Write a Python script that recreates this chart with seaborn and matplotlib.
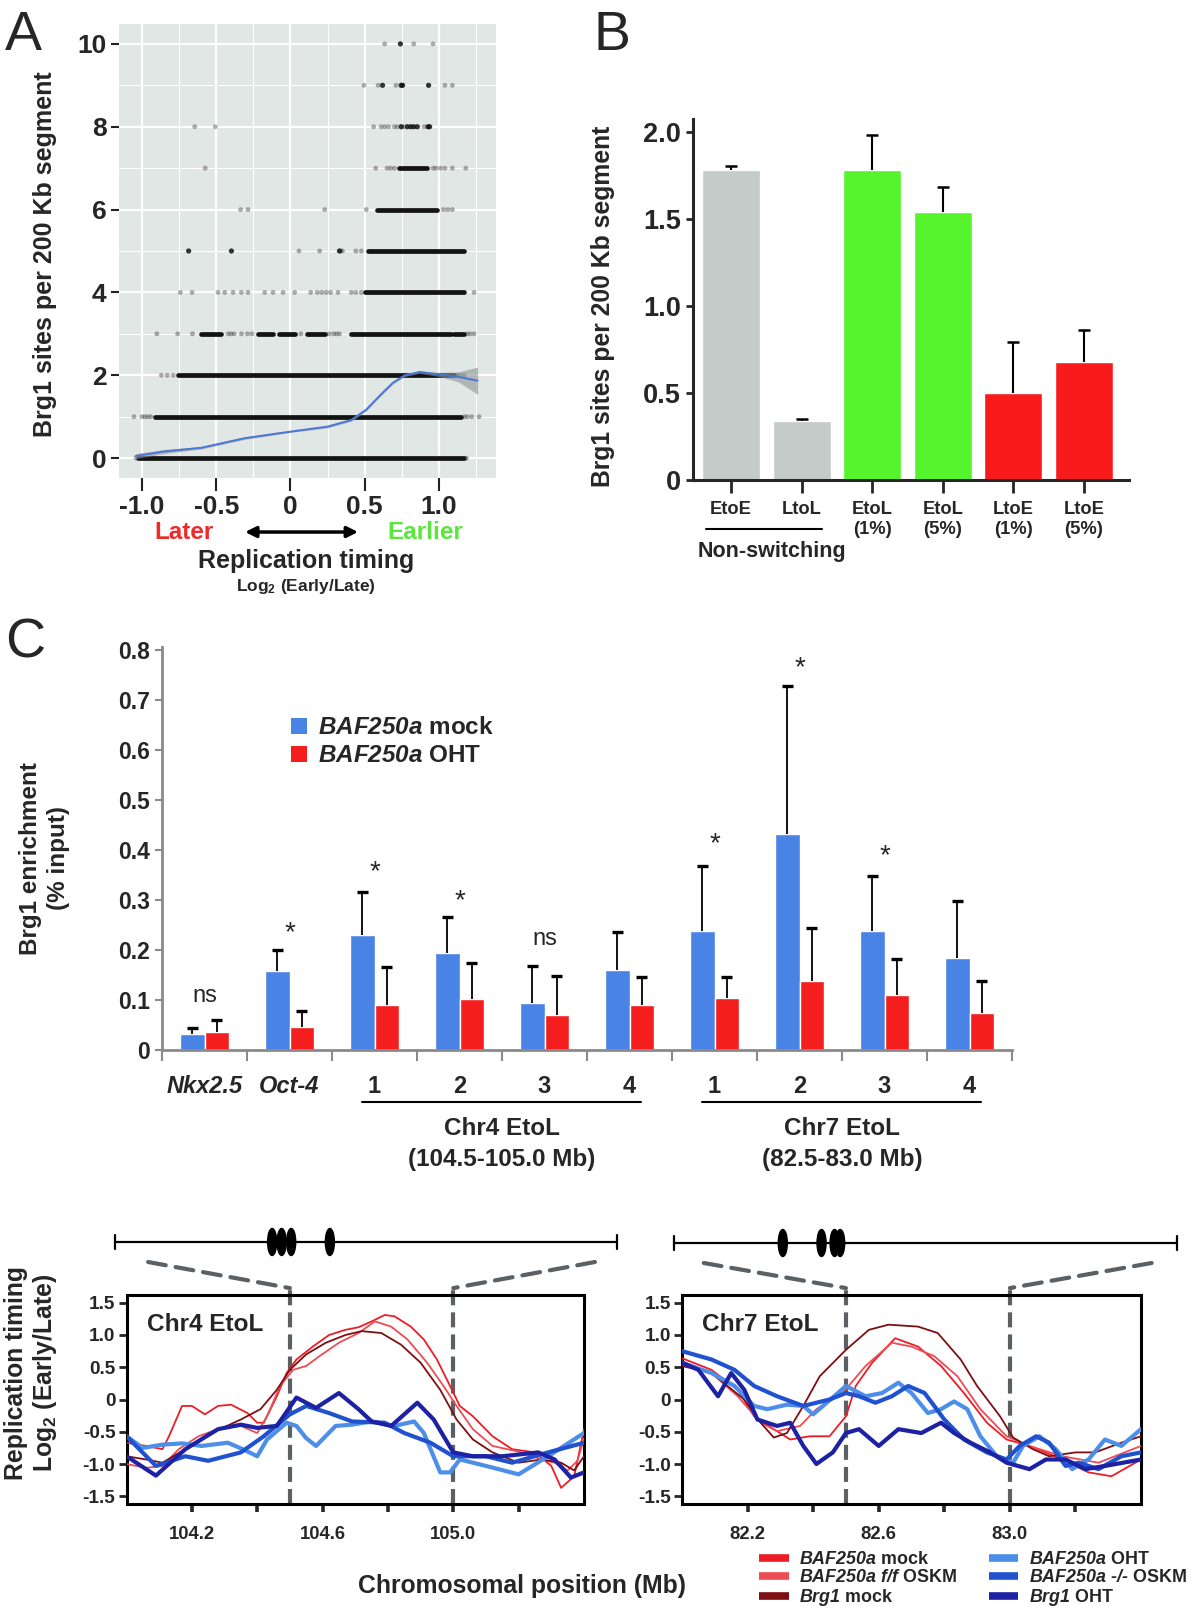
import numpy as np
import pandas as pd
import matplotlib
matplotlib.use("Agg")
import matplotlib.pyplot as plt
from matplotlib.patches import Ellipse, ConnectionPatch, Patch
from matplotlib.lines import Line2D
import seaborn as sns

sns.set_style("ticks")
plt.rcParams['font.family'] = ['Liberation Sans', 'DejaVu Sans']
plt.rcParams['font.weight'] = 'bold'
plt.rcParams['axes.labelweight'] = 'bold'
plt.rcParams['mathtext.fontset'] = 'custom'
# Ziffern im Mathe-Modus kommen aus "rm" -> auch kursiv-fett, damit BAF250a komplett kursiv ist
plt.rcParams['mathtext.rm'] = 'Liberation Sans:italic:bold'
plt.rcParams['mathtext.it'] = 'Liberation Sans:italic:bold'
plt.rcParams['mathtext.bf'] = 'Liberation Sans:bold'

# --- A: Brg1-Sites vs. Replikationszeitpunkt ---
# dichte Bereiche je Zeile: (sites, timing von, timing bis)
a_dense = [(0, -1.03, 1.17), (1, -0.915, 1.15), (2, -0.76, 1.10),
           (3, -0.60, -0.47), (3, -0.22, -0.12), (3, -0.08, 0.03), (3, 0.11, 0.23),
           (3, 0.41, 1.08), (3, 1.10, 1.17),
           (4, 0.50, 1.17), (5, 0.52, 1.17), (6, 0.58, 0.99), (7, 0.73, 0.92)]
a_sparse = {
    0: [-1.04, 1.185],
    1: [-1.054, -1.0, -0.98, -0.96, -0.94, 1.17, 1.19, 1.22, 1.27],
    2: [-0.87, -0.83, -0.79, 1.12, 1.14, 1.17],
    3: [-0.90, -0.76, -0.66, -0.42, -0.40, -0.38, -0.33, -0.29, -0.26, 0.07, 0.26,
        0.29, 0.31, 0.33, 1.19, 1.21, 1.236],
    4: [-0.742, -0.663, -0.488, -0.443, -0.387, -0.331, -0.286, -0.174, -0.118, -0.05,
        0.028, 0.136, 0.18, 0.21, 0.24, 0.27, 0.32, 0.41, 0.44, 0.477, 1.236],
    5: [0.057, 0.196, 0.338, 0.35, 0.44, 0.477],
    6: [-0.336, -0.286, 0.23, 0.51, 1.03, 1.06, 1.09],
    7: [-0.574, 0.574, 0.65, 0.675, 0.70, 0.96, 0.98, 1.01, 1.04, 1.09, 1.18],
    8: [-0.645, -0.506, 0.56, 0.61, 0.634, 0.66, 0.70, 0.72, 0.764, 0.90],
    9: [0.495, 0.59, 0.71, 1.04, 1.09],
    10: [0.634, 0.83, 0.96],
}
a_dark = {5: [-0.686, -0.398, 0.33],
          8: [0.746, 0.787, 0.81, 0.83, 0.854, 0.926, 0.937],
          9: [0.62, 0.745, 0.755, 0.93],
          10: [0.74]}
loess_x = [-1.044, -0.85, -0.6, -0.31, 0.0, 0.25, 0.41, 0.51, 0.61, 0.69, 0.77, 0.87, 1.0, 1.13, 1.26]
loess_y = [0.05, 0.16, 0.25, 0.48, 0.64, 0.76, 0.92, 1.17, 1.54, 1.82, 2.0, 2.08, 2.02, 1.96, 1.87]
loess_se = [0.06, 0.05, 0.03, 0.03, 0.02, 0.03, 0.03, 0.03, 0.03, 0.03, 0.03, 0.03, 0.05, 0.12, 0.33]

# --- B ---
b_cats = ["EtoE", "LtoL", "EtoL\n(1%)", "EtoL\n(5%)", "LtoE\n(1%)", "LtoE\n(5%)"]
b_vals = [1.78, 0.34, 1.78, 1.54, 0.50, 0.68]
b_tops = [1.807, 0.352, 1.984, 1.686, 0.795, 0.861]
b_colors = ["#c3ccc8", "#c3ccc8", "#55f42d", "#55f42d", "#f91b1b", "#f91b1b"]

# --- C ---
c_groups = ["Nkx2.5", "Oct-4", "1", "2", "3", "4", "1", "2", "3", "4"]
c_mock = [0.032, 0.158, 0.230, 0.194, 0.093, 0.159, 0.238, 0.431, 0.237, 0.184]
c_mock_top = [0.043, 0.199, 0.316, 0.265, 0.167, 0.235, 0.367, 0.727, 0.347, 0.298]
c_oht = [0.036, 0.045, 0.089, 0.102, 0.069, 0.089, 0.104, 0.138, 0.109, 0.073]
c_oht_top = [0.060, 0.078, 0.166, 0.173, 0.148, 0.146, 0.146, 0.243, 0.182, 0.137]
c_sig = ["ns", "*", "*", "*", "ns", "", "*", "*", "*", ""]
c_sig_y = [0.108, 0.234, 0.355, 0.297, 0.221, 0.0, 0.411, 0.762, 0.388, 0.0]

# --- Replikationsprofile Chr4 ---
c4_mock_x = [104.00, 104.06, 104.11, 104.13, 104.17, 104.20, 104.24, 104.28, 104.32, 104.37, 104.40, 104.42,
             104.46, 104.49, 104.52, 104.57, 104.62, 104.67, 104.71, 104.75, 104.79, 104.82, 104.87, 104.91,
             104.95, 104.99, 105.02, 105.06, 105.12, 105.18, 105.25, 105.30, 105.33, 105.37, 105.40]
c4_mock_y = [-0.67, -0.72, -0.77, -0.57, -0.10, -0.10, -0.23, -0.10, -0.08, -0.21, -0.36, -0.36,
             0.05, 0.41, 0.62, 0.82, 1.00, 1.08, 1.12, 1.21, 1.31, 1.29, 1.13, 0.93,
             0.62, 0.21, -0.10, -0.26, -0.57, -0.77, -0.82, -1.03, -1.37, -1.19, -0.46]
c4_ff_x = [104.00, 104.06, 104.11, 104.16, 104.22, 104.28, 104.35, 104.40, 104.43, 104.47, 104.51, 104.55,
           104.59, 104.65, 104.71, 104.76, 104.81, 104.86, 104.92, 104.97, 105.01, 105.06, 105.12, 105.21,
           105.27, 105.31, 105.35, 105.38, 105.40]
c4_ff_y = [-1.00, -1.06, -1.03, -0.77, -0.57, -0.46, -0.41, -0.52, -0.26, 0.21, 0.46, 0.52,
           0.67, 0.88, 1.03, 1.21, 1.13, 0.93, 0.57, 0.21, -0.10, -0.46, -0.72, -0.82,
           -0.93, -0.98, -1.10, -0.95, -0.60]
c4_brg_x = [104.00, 104.06, 104.11, 104.18, 104.26, 104.35, 104.41, 104.46, 104.50, 104.55, 104.61, 104.67,
            104.72, 104.78, 104.84, 104.90, 104.96, 105.01, 105.06, 105.12, 105.20, 105.27, 105.33, 105.37, 105.40]
c4_brg_y = [-0.88, -0.93, -0.98, -0.77, -0.52, -0.31, -0.15, 0.15, 0.46, 0.70, 0.88, 1.00,
            1.06, 1.03, 0.85, 0.57, 0.15, -0.31, -0.62, -0.82, -0.98, -0.93, -0.98, -1.10, -0.88]
c4_oht_x = [104.00, 104.05, 104.11, 104.17, 104.23, 104.31, 104.36, 104.40, 104.43, 104.49, 104.52, 104.55,
            104.58, 104.64, 104.69, 104.75, 104.82, 104.88, 104.91, 104.96, 104.99, 105.02, 105.10, 105.20,
            105.29, 105.40]
c4_oht_y = [-0.57, -0.75, -0.70, -0.68, -0.72, -0.67, -0.78, -0.88, -0.62, -0.36, -0.41, -0.60,
            -0.72, -0.41, -0.39, -0.34, -0.41, -0.34, -0.52, -1.13, -1.13, -0.93, -1.03, -1.16,
            -0.88, -0.52]
c4_ko_x = [104.00, 104.09, 104.18, 104.25, 104.35, 104.42, 104.50, 104.55, 104.62, 104.69, 104.79, 104.85,
           104.93, 105.00, 105.10, 105.18, 105.29, 105.40]
c4_ko_y = [-0.57, -1.03, -0.88, -0.95, -0.82, -0.57, -0.23, -0.10, -0.21, -0.34, -0.36, -0.52,
           -0.67, -0.88, -0.88, -0.98, -0.82, -0.67]
c4_brgoht_x = [104.00, 104.09, 104.18, 104.28, 104.35, 104.40, 104.46, 104.52, 104.58, 104.65, 104.71, 104.75,
               104.81, 104.89, 104.94, 105.00, 105.06, 105.15, 105.26, 105.31, 105.36, 105.40]
c4_brgoht_y = [-0.88, -1.18, -0.77, -0.46, -0.39, -0.44, -0.41, 0.03, -0.13, 0.10, -0.15, -0.34,
               -0.41, -0.05, -0.31, -0.82, -0.88, -0.88, -0.82, -0.93, -1.21, -1.13]

# --- Replikationsprofile Chr7 ---
c7_mock_x = [82.00, 82.09, 82.17, 82.22, 82.28, 82.33, 82.39, 82.45, 82.50, 82.53, 82.58, 82.65,
             82.72, 82.79, 82.86, 82.93, 82.99, 83.06, 83.16, 83.24, 83.31, 83.40]
c7_mock_y = [0.64, 0.46, 0.15, -0.26, -0.46, -0.62, -0.57, -0.57, -0.26, 0.21, 0.57, 0.95,
             0.82, 0.52, 0.10, -0.36, -0.62, -0.72, -0.93, -1.13, -1.19, -0.93]
c7_ff_x = [82.00, 82.09, 82.17, 82.24, 82.29, 82.36, 82.41, 82.49, 82.56, 82.64, 82.70, 82.77,
           82.84, 82.91, 82.99, 83.06, 83.16, 83.27, 83.40]
c7_ff_y = [0.59, 0.41, 0.05, -0.36, -0.49, -0.41, -0.15, 0.10, 0.52, 0.88, 0.82, 0.67,
           0.36, -0.15, -0.57, -0.72, -0.88, -0.98, -0.72]
c7_brg_x = [82.00, 82.09, 82.19, 82.24, 82.28, 82.32, 82.37, 82.42, 82.50, 82.57, 82.63, 82.72,
            82.78, 82.85, 82.90, 82.97, 83.01, 83.07, 83.12, 83.20, 83.26, 83.34, 83.40]
c7_brg_y = [0.52, 0.41, 0.00, -0.36, -0.59, -0.52, -0.10, 0.36, 0.77, 1.08, 1.16, 1.13,
            1.03, 0.62, 0.21, -0.26, -0.59, -0.77, -0.88, -0.82, -0.82, -0.67, -0.57]
c7_oht_x = [82.00, 82.09, 82.16, 82.22, 82.26, 82.32, 82.37, 82.40, 82.43, 82.50, 82.56, 82.61,
            82.66, 82.70, 82.75, 82.79, 82.83, 82.87, 82.91, 82.96, 83.01, 83.04, 83.09, 83.14,
            83.19, 83.24, 83.29, 83.34, 83.40]
c7_oht_y = [0.57, 0.41, 0.21, -0.10, -0.15, -0.08, -0.10, -0.23, -0.10, 0.21, 0.05, 0.10,
            0.26, 0.10, -0.21, -0.15, -0.03, -0.15, -0.57, -0.88, -0.98, -0.72, -0.57, -0.77,
            -1.08, -0.93, -0.62, -0.72, -0.46]
c7_ko_x = [82.00, 82.09, 82.16, 82.22, 82.29, 82.37, 82.45, 82.50, 82.54, 82.59, 82.64, 82.69,
           82.74, 82.80, 82.86, 82.93, 82.99, 83.03, 83.08, 83.12, 83.17, 83.21, 83.27, 83.34, 83.40]
c7_ko_y = [0.75, 0.62, 0.46, 0.21, 0.05, -0.10, 0.00, 0.10, 0.05, -0.05, 0.05, 0.21,
           0.10, -0.31, -0.62, -0.82, -0.93, -0.72, -0.57, -0.67, -1.03, -0.98, -1.08, -0.88, -0.82]
c7_brgoht_x = [82.00, 82.05, 82.11, 82.15, 82.19, 82.23, 82.29, 82.33, 82.37, 82.41, 82.46, 82.50,
               82.54, 82.60, 82.66, 82.73, 82.79, 82.83, 82.88, 82.94, 82.99, 83.06, 83.11, 83.17,
               83.23, 83.29, 83.40]
c7_brgoht_y = [0.57, 0.46, 0.05, 0.41, 0.15, -0.31, -0.41, -0.36, -0.72, -1.00, -0.82, -0.52,
               -0.46, -0.72, -0.46, -0.52, -0.36, -0.52, -0.67, -0.82, -0.98, -1.08, -0.93, -0.93,
               -1.08, -1.03, -0.93]

# Brg1-Sites auf der Schema-Spur (Anteil der Spurlaenge)
chr4_sites = [0.313, 0.332, 0.351, 0.428]
chr7_sites = [0.217, 0.294, 0.320, 0.331]

prof_labels = [r"$\mathit{BAF250a}$ mock", r"$\mathit{BAF250a\ f/f}$ OSKM", r"$\mathit{Brg1}$ mock",
               r"$\mathit{BAF250a}$ OHT", "$\\mathit{BAF250a\\ \u2010/\u2010}$ OSKM", r"$\mathit{Brg1}$ OHT"]
prof_colors = ["#ee1c25", "#ef4b55", "#7d0f12", "#4d8fe8", "#2052d0", "#1c22a3"]
prof_lw = [1.3, 1.3, 1.3, 3.0, 3.0, 3.0]

W, H = 1200, 1613
fig = plt.figure(figsize=(12, 16.13), dpi=100)
LOG2 = r"Log$_\mathbf{2}$ (Early/Late)"


def box(x0, y0, x1, y1):
    return [x0 / W, 1 - y1 / H, (x1 - x0) / W, (y1 - y0) / H]


def up_err(ax, xs, vals, tops, capw, lw, clw):
    # Fehlerbalken nur nach oben, ohne Kappe am Balkenende
    xs = np.asarray(xs, dtype=float)
    ax.vlines(xs, vals, tops, color='black', lw=lw, zorder=3)
    ax.hlines(tops, xs - capw, xs + capw, color='black', lw=clw, zorder=3)


# ================= Panel A =================
axA = fig.add_axes(box(119, 24, 496, 478))
axA.set_facecolor("#e1e7e5")
for sp in axA.spines.values():
    sp.set_visible(False)
axA.set_axisbelow(True)
axA.set_xticks([-1.0, -0.5, 0, 0.5, 1.0])
axA.set_xticklabels(["-1.0", "-0.5", "0", "0.5", "1.0"])
axA.set_xticks([-0.75, -0.25, 0.25, 0.75, 1.25], minor=True)
axA.set_yticks([0, 2, 4, 6, 8, 10])
axA.set_yticks([1, 3, 5, 7, 9], minor=True)
axA.grid(which='major', color='white', lw=1.6)
axA.grid(which='minor', color='white', lw=0.7)
axA.tick_params(which='major', width=1.5, color='#222', labelsize=19, pad=3)
axA.tick_params(axis='x', which='major', length=9)
axA.tick_params(axis='y', which='major', length=6)
axA.tick_params(which='minor', length=0)

dl = pd.DataFrame([(x, y) for y, xs in a_sparse.items() for x in xs], columns=['timing', 'sites'])
dd = pd.DataFrame([(x, y) for y, xs in a_dark.items() for x in xs], columns=['timing', 'sites'])
for y, x0, x1 in a_dense:
    axA.plot([x0, x1], [y, y], color='black', lw=3.4, solid_capstyle='round', alpha=0.92, zorder=2)
sns.scatterplot(data=dl, x='timing', y='sites', color='#2a2a2a', alpha=0.38, s=12, edgecolor='none', ax=axA, zorder=2)
sns.scatterplot(data=dd, x='timing', y='sites', color='#111111', alpha=0.85, s=14, edgecolor='none', ax=axA, zorder=2)
lo = np.array(loess_y) - np.array(loess_se)
hi = np.array(loess_y) + np.array(loess_se)
axA.fill_between(loess_x, lo, hi, color='#8c9494', alpha=0.6, lw=0, zorder=3)
sns.lineplot(x=loess_x, y=loess_y, color='#4a76d6', lw=1.4, ax=axA, zorder=4, sort=False, estimator=None)
axA.set_xlim(-1.155, 1.384)
axA.set_ylim(-0.48, 10.48)
axA.set_xlabel("")
axA.set_ylabel("Brg1 sites per 200 Kb segment", fontsize=18)
axA.yaxis.set_label_coords(-0.164, 0.494)

tr = axA.transAxes
axA.text(0.172, -0.119, "Later", color='#ee2b2b', transform=tr, ha='center', va='center', fontsize=17.5)
axA.text(0.812, -0.119, "Earlier", color='#5ce63d', transform=tr, ha='center', va='center', fontsize=17.5)
axA.annotate('', xy=(0.455, -0.119), xytext=(-0.306, -0.119),
             xycoords=('data', 'axes fraction'), textcoords=('data', 'axes fraction'),
             arrowprops=dict(arrowstyle='<|-|>', color='black', lw=2.5, mutation_scale=16,
                             shrinkA=0, shrinkB=0), annotation_clip=False)
axA.text(0.496, -0.183, "Replication timing", transform=tr, ha='center', va='center', fontsize=18)
axA.text(0.496, -0.238, LOG2, transform=tr, ha='center', va='center', fontsize=12.5)

# ================= Panel B =================
axB = fig.add_axes(box(693, 119, 1129, 480))
sns.barplot(x=list(range(6)), y=b_vals, hue=list(range(6)), palette=b_colors, width=0.82,
            saturation=1, legend=False, ax=axB)
up_err(axB, range(6), b_vals, b_tops, 0.085, 1.5, 1.8)
axB.set_xlim(-0.54, 5.64)
axB.set_ylim(0, 2.075)
axB.set_yticks([0, 0.5, 1.0, 1.5, 2.0])
axB.set_yticklabels(["0", "0.5", "1.0", "1.5", "2.0"])
axB.set_xticks(range(6))
axB.set_xticklabels(b_cats, fontsize=13.2, linespacing=1.25)
axB.tick_params(axis='y', labelsize=19.5, length=5, width=2)
axB.tick_params(axis='x', length=9, width=2, pad=6)
for s in ['top', 'right']:
    axB.spines[s].set_visible(False)
for s in ['left', 'bottom']:
    axB.spines[s].set_linewidth(2.2)
axB.set_ylabel("Brg1 sites per 200 Kb segment", fontsize=17.8)
axB.yaxis.set_label_coords(-0.179, 0.48)
axB.plot([-0.35, 1.29], [-0.136, -0.136], color='black', lw=1.5,
         transform=axB.get_xaxis_transform(), clip_on=False)
axB.text(0.58, -0.197, "Non-switching", transform=axB.get_xaxis_transform(),
         ha='center', va='center', fontsize=15.5)

# ================= Panel C =================
axC = fig.add_axes(box(162, 647, 1012, 1050))
dfc = pd.DataFrame({'grp': list(range(10)) * 2,
                    'val': c_mock + c_oht,
                    'cond': ['mock'] * 10 + ['OHT'] * 10})
sns.barplot(data=dfc, x='grp', y='val', hue='cond', palette=['#4a83e6', '#f41e1e'], width=0.57,
            saturation=1, errorbar=None, legend=False, ax=axC)
xg = np.arange(10)
up_err(axC, xg - 0.1425, c_mock, c_mock_top, 0.065, 1.3, 2.4)
up_err(axC, xg + 0.1425, c_oht, c_oht_top, 0.065, 1.3, 2.4)
for i, (lab, yy) in enumerate(zip(c_sig, c_sig_y)):
    if lab:
        axC.text(i, yy, lab, ha='center', va='center', fontweight='normal',
                 fontsize=17 if lab == 'ns' else 20)
axC.set_xlim(-0.5, 9.5)
axC.set_ylim(0, 0.805)
axC.set_yticks(np.arange(0, 0.81, 0.1))
axC.set_yticklabels(["0", "0.1", "0.2", "0.3", "0.4", "0.5", "0.6", "0.7", "0.8"])
axC.set_xticks(np.arange(-0.5, 10, 1.0))
axC.set_xticklabels([])
axC.set_xticks(xg, minor=True)
axC.set_xticklabels(c_groups, minor=True)
for lbl in axC.get_xticklabels(minor=True)[:2]:
    lbl.set_style('italic')
axC.tick_params(axis='x', which='major', length=8, width=1.5, color='#8a8a8a', direction='out')
axC.tick_params(axis='x', which='minor', length=0, labelsize=17, pad=18)
axC.tick_params(axis='y', length=5, width=1.5, color='#8a8a8a', labelsize=16.5)
for s in ['top', 'right']:
    axC.spines[s].set_visible(False)
for s in ['left', 'bottom']:
    axC.spines[s].set_color('#8a8a8a')
    axC.spines[s].set_linewidth(2)
axC.set_xlabel("")
axC.set_ylabel("")
axC.text(-0.138, 0.476, "Brg1 enrichment\n(% input)", transform=axC.transAxes, rotation=90,
         ha='center', va='center', fontsize=17.5, linespacing=1.3)
xt = axC.get_xaxis_transform()
for x0, x1, xc, t1, t2 in [(1.85, 5.14, 3.5, "Chr4 EtoL", "(104.5-105.0 Mb)"),
                           (5.85, 9.14, 7.5, "Chr7 EtoL", "(82.5-83.0 Mb)")]:
    axC.plot([x0, x1], [-0.129, -0.129], color='black', lw=1.5, transform=xt, clip_on=False)
    axC.text(xc, -0.194, t1, transform=xt, ha='center', va='center', fontsize=17.5)
    axC.text(xc, -0.272, t2, transform=xt, ha='center', va='center', fontsize=17.5)
hC = [Patch(facecolor='#4a83e6', edgecolor='none'), Patch(facecolor='#f41e1e', edgecolor='none')]
axC.legend(hC, [r"$\mathit{BAF250a}$ mock", r"$\mathit{BAF250a}$ OHT"], loc='upper left',
           bbox_to_anchor=(0.152, 0.828), frameon=False, fontsize=17.5, handlelength=0.65,
           handleheight=0.65, handletextpad=0.45, labelspacing=0.2, borderpad=0, borderaxespad=0)

# ================= Replikationsprofile =================
profiles = [
    ("Chr4 EtoL", box(126.5, 1295, 584, 1504), box(115, 1222, 617, 1262), (104.0, 105.4),
     [104.2, 104.6, 105.0], [104.4, 104.8, 105.2], (104.5, 105.0), chr4_sites, (0.066, 0.956),
     [(c4_mock_x, c4_mock_y), (c4_ff_x, c4_ff_y), (c4_brg_x, c4_brg_y),
      (c4_oht_x, c4_oht_y), (c4_ko_x, c4_ko_y), (c4_brgoht_x, c4_brgoht_y)]),
    ("Chr7 EtoL", box(682, 1295, 1141, 1504), box(673.6, 1223, 1176.8, 1263), (82.0, 83.4),
     [82.2, 82.6, 83.0], [82.4, 82.8, 83.2], (82.5, 83.0), chr7_sites, (0.06, 0.95),
     [(c7_mock_x, c7_mock_y), (c7_ff_x, c7_ff_y), (c7_brg_x, c7_brg_y),
      (c7_oht_x, c7_oht_y), (c7_ko_x, c7_ko_y), (c7_brgoht_x, c7_brgoht_y)]),
]
dash_col = '#5a6063'
for title, pos, tpos, xlim, majt, mint, region, sites, zoom_from, curves in profiles:
    ax = fig.add_axes(pos)
    for (xs, ys), col, lw in zip(curves, prof_colors, prof_lw):
        sns.lineplot(x=xs, y=ys, color=col, lw=lw, ax=ax, sort=False, estimator=None,
                     solid_joinstyle='round', solid_capstyle='round', zorder=3)
    ax.set_xlim(*xlim)
    ax.set_ylim(-1.62, 1.62)
    ax.set_yticks([1.5, 1.0, 0.5, 0, -0.5, -1.0, -1.5])
    ax.set_yticklabels(["1.5", "1.0", "0.5", "0", "-0.5", "-1.0", "-1.5"])
    ax.set_xticks(majt)
    ax.set_xticklabels([f"{v:.1f}" for v in majt])
    ax.set_xticks(mint, minor=True)
    ax.tick_params(axis='y', length=6, width=2, labelsize=13.7, pad=2)
    ax.tick_params(axis='x', which='both', length=6, width=2.6, labelsize=13.3, pad=10)
    for sp in ax.spines.values():
        sp.set_linewidth(2.2)
        sp.set_color('black')
    ax.set_xlabel("")
    ax.set_ylabel("")
    ax.text(0.044, 0.86, title, transform=ax.transAxes, ha='left', va='center', fontsize=17.6)
    for xv in region:
        ax.axvline(xv, ymin=0, ymax=1.033, color=dash_col, lw=3.0, dashes=(3.6, 1.7),
                   clip_on=False, zorder=2)

    axt = fig.add_axes(tpos)
    axt.set_xlim(0, 1)
    axt.set_ylim(-1, 1)
    axt.axis('off')
    axt.plot([0, 1], [0, 0], color='black', lw=1.6, clip_on=False)
    for xe in [0, 1]:
        axt.plot([xe, xe], [-0.37, 0.37], color='black', lw=1.6, clip_on=False)
    for s in sites:
        axt.add_patch(Ellipse((s, 0), 0.018, 1.35, color='black'))
    for zf, xv in zip(zoom_from, region):
        con = ConnectionPatch(xyA=(zf, -1), coordsA=axt.transData,
                              xyB=(xv, 1.033), coordsB=ax.get_xaxis_transform(),
                              color=dash_col, lw=3.0, linestyle=(0, (4.3, 2.4)))
        fig.add_artist(con)

fig.text(16 / W, 1 - 1373 / H, "Replication timing", rotation=90, ha='center', va='center', fontsize=17.8)
fig.text(45 / W, 1 - 1373 / H, LOG2, rotation=90, ha='center', va='center', fontsize=17.8)
fig.text(522 / W, 1 - 1586 / H, "Chromosomal position (Mb)", ha='center', va='center', fontsize=17.8)

hP = [Line2D([0], [0], color=c, lw=5.5, solid_capstyle='butt') for c in prof_colors]
fig.legend(hP, prof_labels, ncol=2, loc='upper left', bbox_to_anchor=(759 / W, 1 - 1551 / H),
           frameon=False, fontsize=12.9, handlelength=1.65, handletextpad=0.6, columnspacing=1.75,
           labelspacing=0.06, borderpad=0, borderaxespad=0)

# Panel-Buchstaben
fig.text(5 / W, 1 - 50 / H, "A", fontsize=40, fontweight='normal', va='baseline')
fig.text(594 / W, 1 - 50 / H, "B", fontsize=40, fontweight='normal', va='baseline')
fig.text(5 / W, 1 - 658 / H, "C", fontsize=40, fontweight='normal', va='baseline')

fig.savefig("out.png", dpi=100)
